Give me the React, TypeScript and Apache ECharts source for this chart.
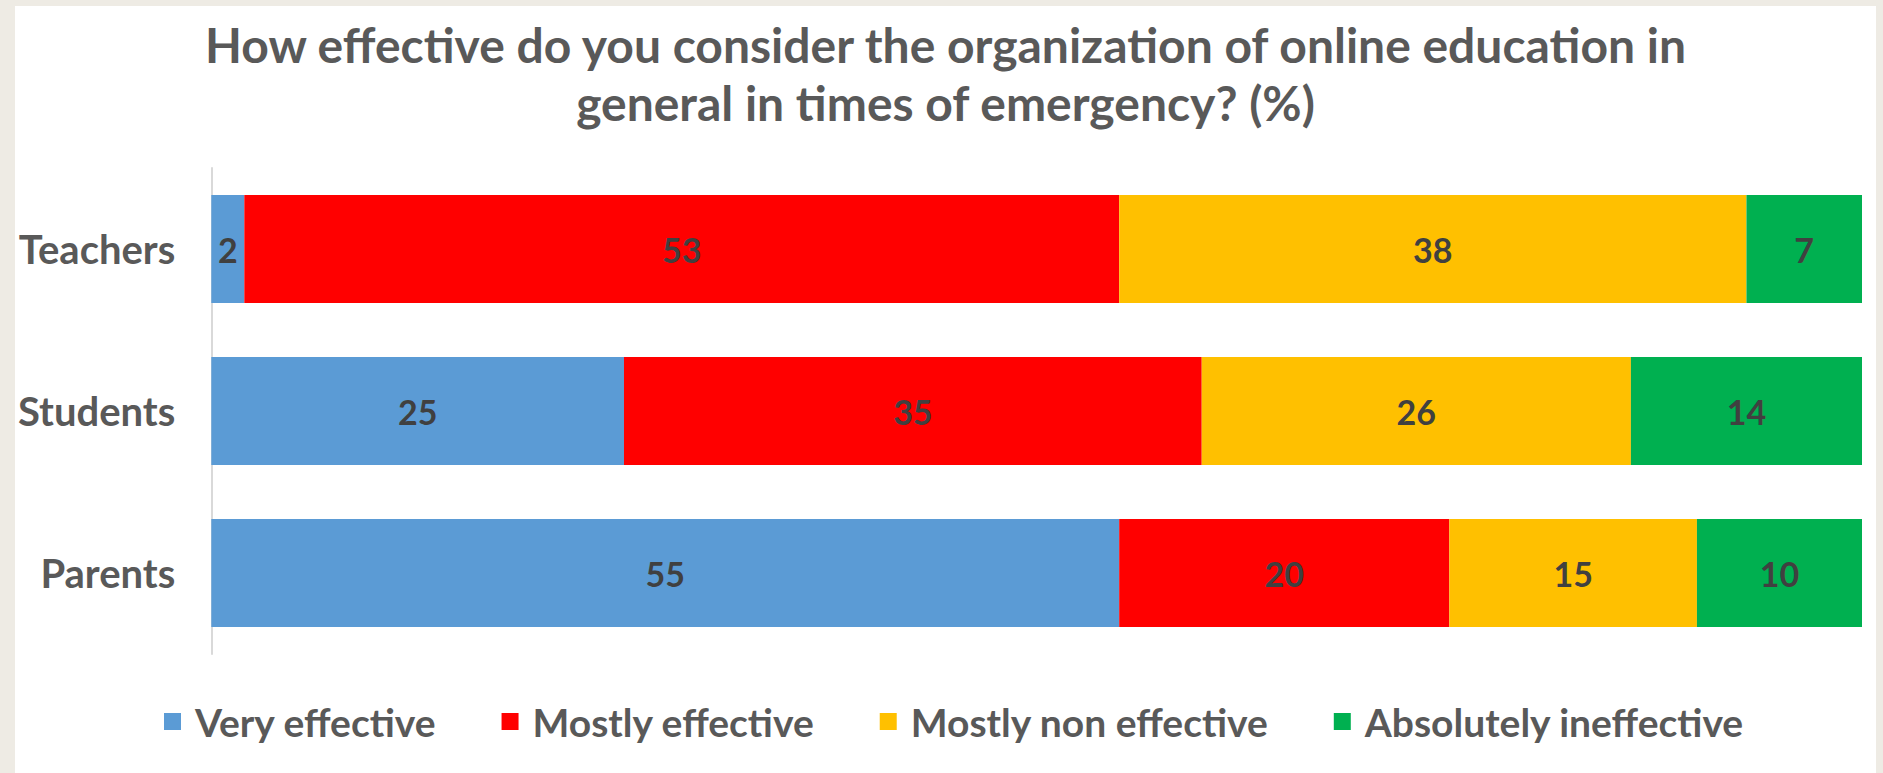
import React, { useEffect, useRef } from "react";
import * as echarts from "echarts";

const categories = ["Parents", "Students", "Teachers"];
const seriesNames = ["Very effective", "Mostly effective", "Mostly non effective", "Absolutely ineffective"];
const veryEffective = [55, 25, 2];
const mostlyEffective = [20, 35, 53];
const mostlyNonEffective = [15, 26, 38];
const absolutelyIneffective = [10, 14, 7];
const colors = ["#5B9BD5", "#FF0000", "#FFC000", "#00B050"];

const FONT = "Lato, 'Open Sans', sans-serif";

export default function App() {
  const ref = useRef<HTMLDivElement>(null);
  useEffect(() => {
    if (!ref.current) return;
    const chart = echarts.init(ref.current, null, { renderer: "svg" });
    const values = [veryEffective, mostlyEffective, mostlyNonEffective, absolutelyIneffective];
    chart.setOption({
      animation: false,
      backgroundColor: "#FFFFFF",
      title: {
        text: "How effective do you consider the organization of online education in\ngeneral in times of emergency? (%)",
        left: "center",
        top: 4,
        textStyle: {
          fontFamily: FONT,
          fontWeight: "bold",
          fontSize: 48,
          color: "#595959",
          lineHeight: 58,
        },
      },
      legend: {
        bottom: 27,
        left: 144,
        itemWidth: 17,
        itemHeight: 17,
        itemGap: 65,
        icon: "rect",
        textStyle: {
          fontFamily: FONT,
          fontWeight: "bold",
          fontSize: 39,
          color: "#595959",
          padding: [0, 0, 0, 9],
        },
        data: seriesNames,
      },
      grid: { left: 195, right: 14, top: 162, bottom: 119, containLabel: false },
      xAxis: {
        type: "value",
        min: 0,
        max: 100,
        show: false,
      },
      yAxis: {
        type: "category",
        data: categories,
        axisLine: { show: true, lineStyle: { color: "#D9D9D9", width: 2 } },
        axisTick: { show: false },
        axisLabel: {
          fontFamily: FONT,
          fontWeight: "bold",
          fontSize: 40,
          color: "#595959",
          margin: 36,
        },
      },
      series: seriesNames.map((name, i) => ({
        name,
        type: "bar",
        stack: "total",
        barCategoryGap: "33.3%",
        data: values[i],
        itemStyle: { color: colors[i] },
        label: {
          show: true,
          position: "inside",
          fontFamily: FONT,
          fontWeight: "bold",
          fontSize: 34,
          color: "#404040",
        },
      })),
    });
    return () => chart.dispose();
  }, []);
  return (
    <div style={{ position: "absolute", left: 0, top: 0, width: 1883, height: 773, background: "#EEEBE4", overflow: "hidden" }}>
      <div ref={ref} style={{ position: "absolute", left: 15, top: 6, width: 1861, height: 767 }} />
    </div>
  );
}
